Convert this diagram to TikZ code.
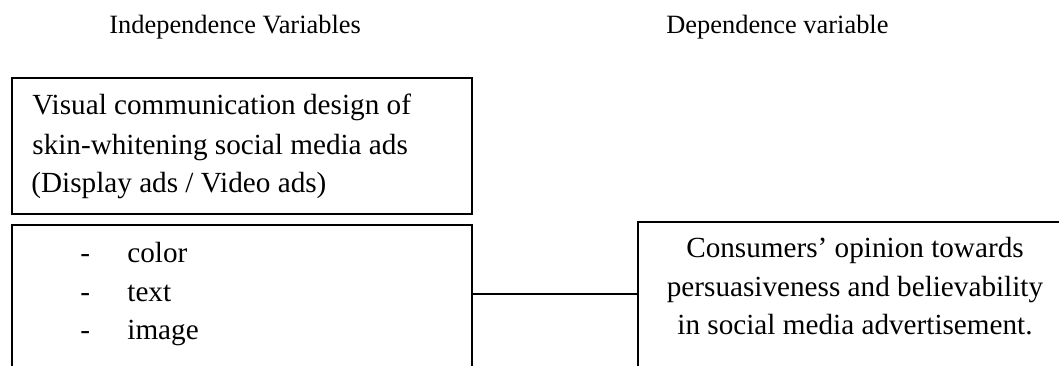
\documentclass[tikz,border=0pt]{standalone}
\usepackage{fontspec}
\setmainfont{Liberation Serif}
\begin{document}
\begin{tikzpicture}[x=0.5pt,y=-0.5pt,
  box/.style={draw=black,line width=1pt,anchor=north west,inner sep=0pt},
  head/.style={inner sep=0pt,font=\fontsize{13.2}{15}\selectfont},
  txt/.style={inner sep=0pt,font=\fontsize{14.6}{17}\selectfont}]
\useasboundingbox (0,0) rectangle (1059,365);
\clip (0,0) rectangle (1059,365);
% headers
\node[head,anchor=base west] (h1) at (109,33) {Independence Variables};
\node[head,anchor=base west] (h2) at (666,33) {Dependence variable};
% boxes
\node[box,minimum width=230pt,minimum height=68pt] (b1) at (11,77) {};
\node[box,minimum width=230pt,minimum height=100pt] (b2) at (11,224) {};
\node[box,minimum width=218pt,minimum height=100pt] (b3) at (637,221) {};
% box 1 text
\node[txt,anchor=base west] (t1) at (32,114) {Visual communication design of};
\node[txt,anchor=base west] (t2) at (32,154) {skin-whitening social media ads};
\node[txt,anchor=base west] (t3) at (31,192) {(Display ads / Video ads)};
% box 2 list
\node[txt,anchor=base west] (d1) at (80,262) {-};
\node[txt,anchor=base west] (d2) at (80,301) {-};
\node[txt,anchor=base west] (d3) at (80,339) {-};
\node[txt,anchor=base west] (l1) at (127,262) {color};
\node[txt,anchor=base west] (l2) at (127,301) {text};
\node[txt,anchor=base west] (l3) at (127,339) {image};
% box 3 text
\node[txt,anchor=base] (r1) at (855,257) {Consumers’ opinion towards};
\node[txt,anchor=base] (r2) at (855,296) {persuasiveness and believability};
\node[txt,anchor=base] (r3) at (855,334) {in social media advertisement.};
% connector
\coordinate (cy) at (0,294);
\draw[line width=1pt] (cy -| b2.east) -- (cy -| b3.west);
\end{tikzpicture}
\end{document}
